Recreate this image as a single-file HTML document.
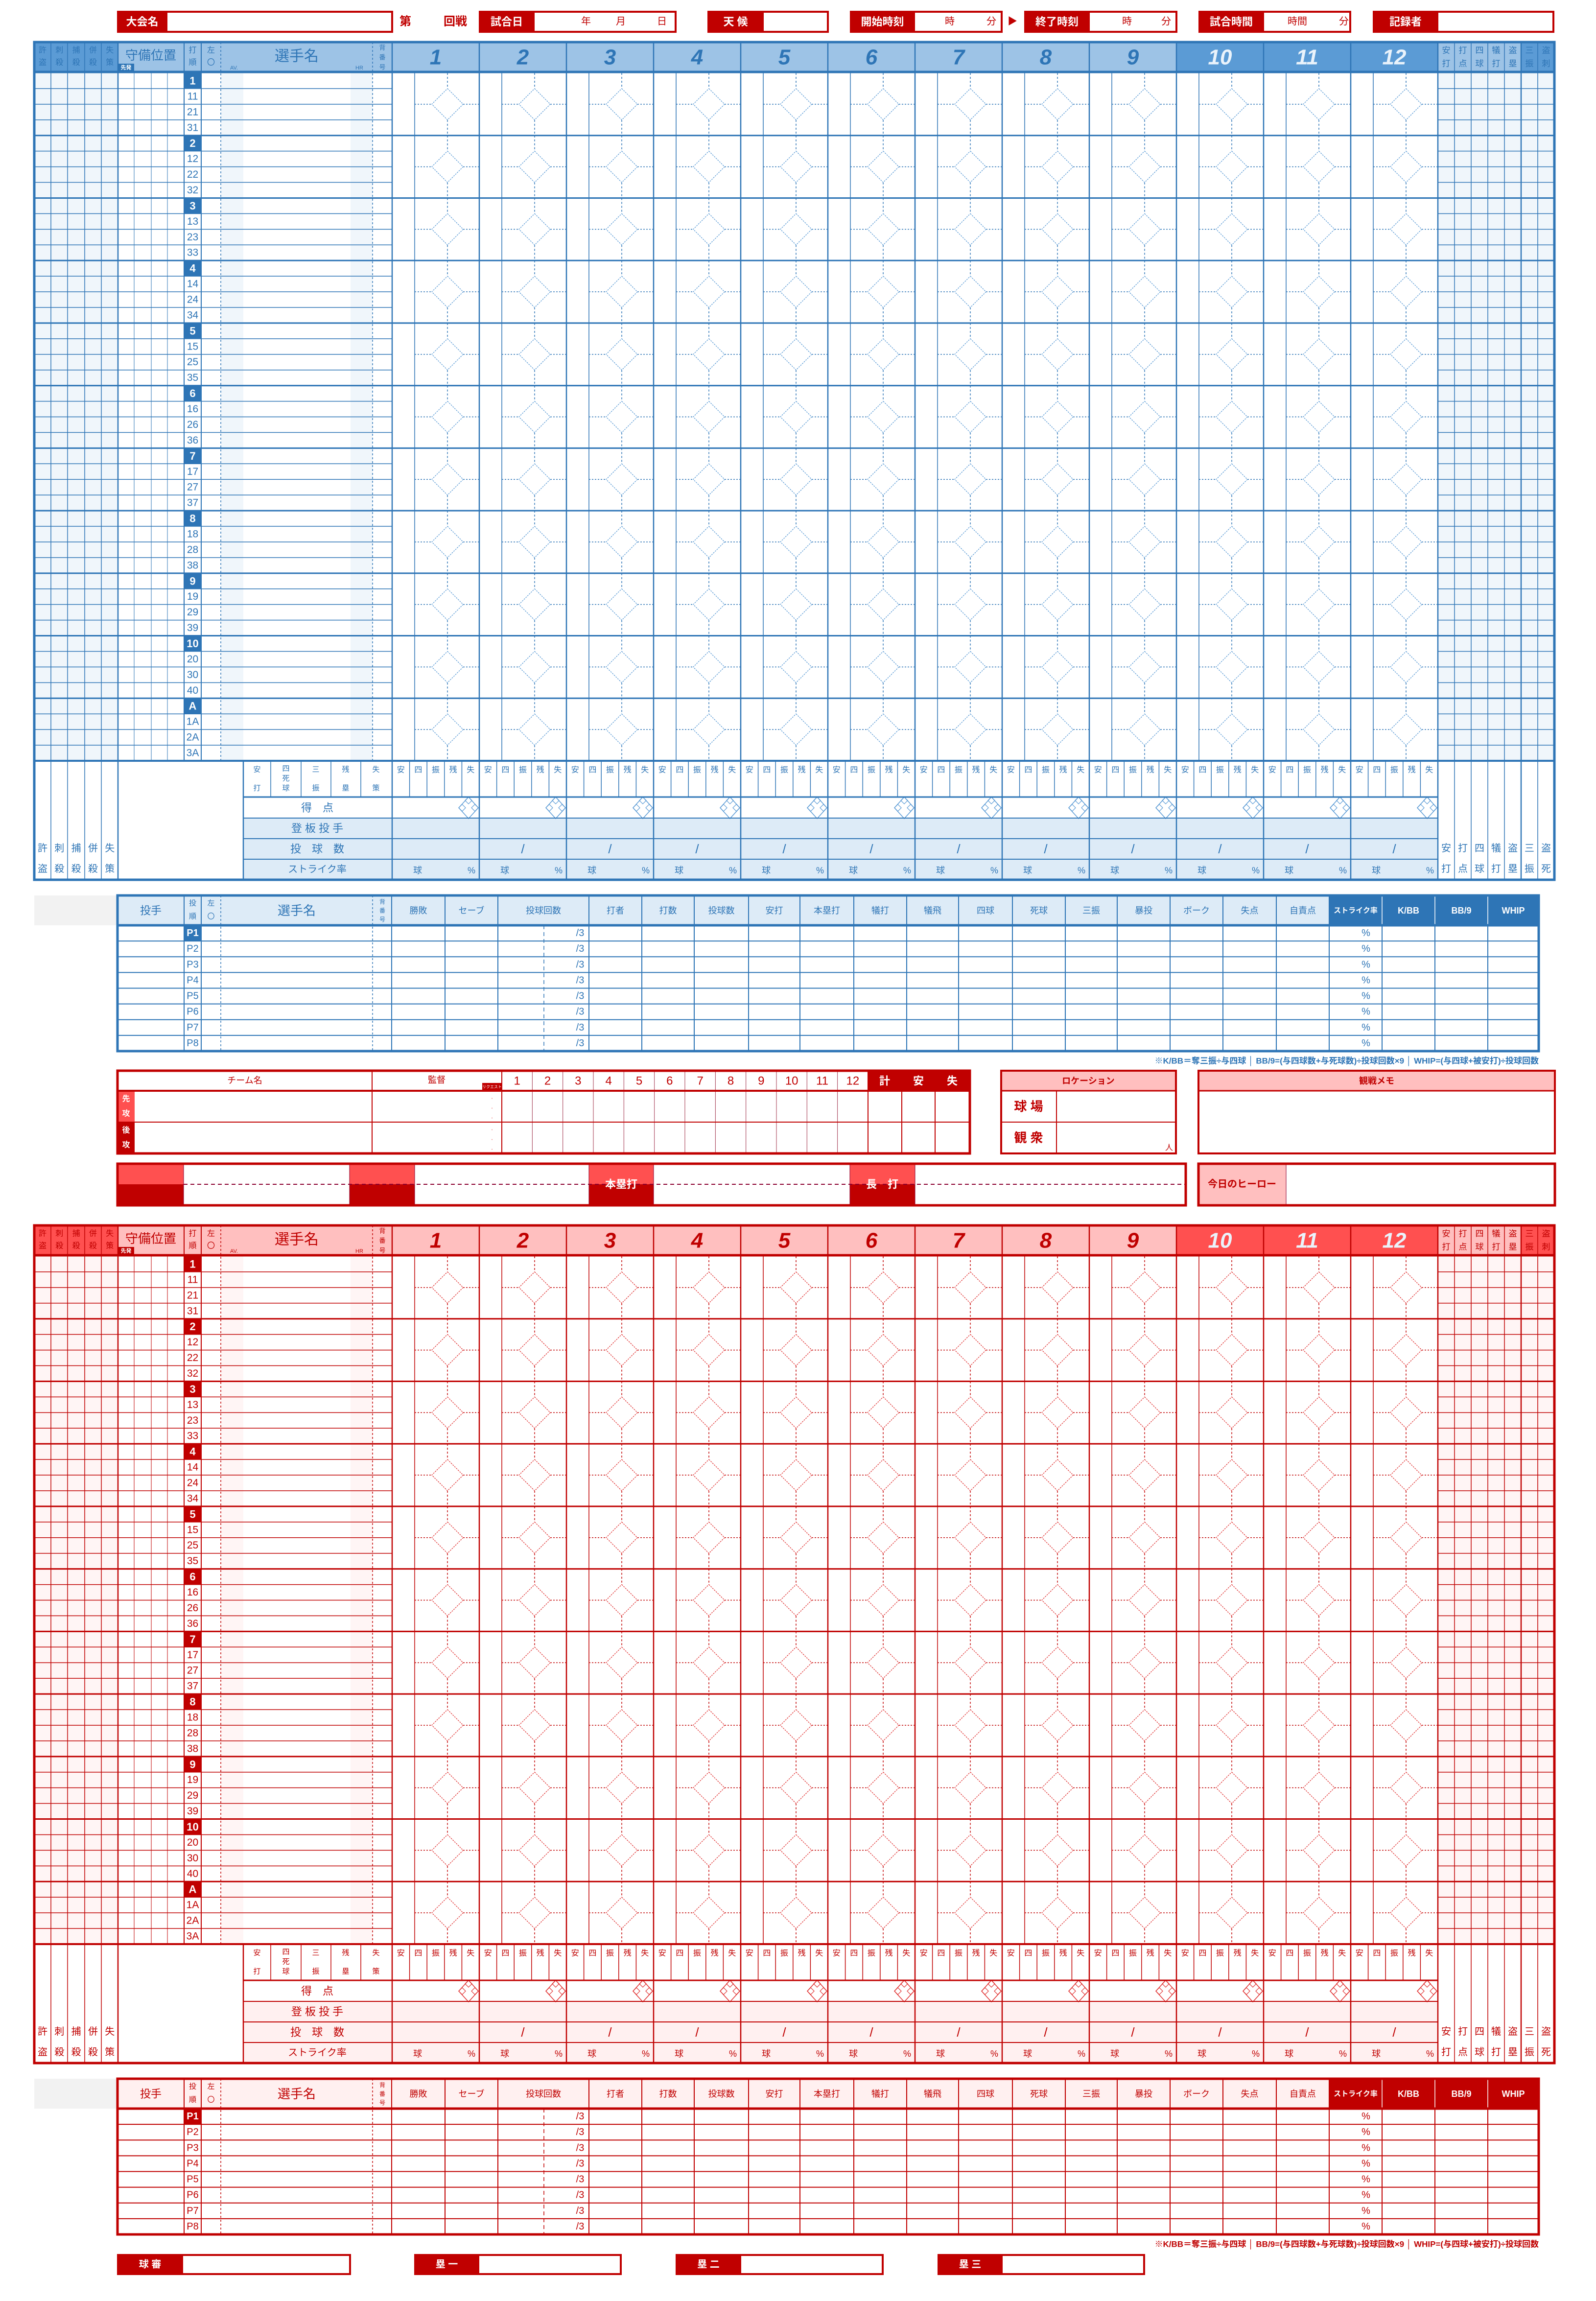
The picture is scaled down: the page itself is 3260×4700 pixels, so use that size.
<!DOCTYPE html>
<html><head><meta charset="utf-8"><style>
html,body{margin:0;padding:0;background:#fff;width:3260px;height:4700px;overflow:hidden}
svg{display:block}
text{font-family:"Liberation Sans","Noto Sans CJK JP",sans-serif}
</style></head><body>
<div id="wrap"></div>
<script>
const S=[];
function R(x,y,w,h,f,s,sw){S.push(`<rect x="${x}" y="${y}" width="${w}" height="${h}" fill="${f||'none'}"${s?` stroke="${s}" stroke-width="${sw||1}"`:''}/>`)}
function L(x1,y1,x2,y2,s,sw,d){S.push(`<line x1="${x1}" y1="${y1}" x2="${x2}" y2="${y2}" stroke="${s}" stroke-width="${sw||1}"${d?` stroke-dasharray="${d}"`:''}/>`)}
function T(x,y,t,sz,f,a,w,ex){S.push(`<text x="${x}" y="${y}" font-size="${sz}" fill="${f}" text-anchor="${a||'middle'}" dominant-baseline="central"${w?` font-weight="${w}"`:''}${ex||''}>${t}</text>`)}
function P(pts,s,sw,d,f){S.push(`<polygon points="${pts}" fill="${f||'none'}" stroke="${s}" stroke-width="${sw}"${d?` stroke-dasharray="${d}"`:''}/>`)}

const BLUE={line:'#2e75b6',text:'#2e75b6',hl:'#9dc3e6',hd:'#5b9bd5',bl:'#f0f6fb',ph:'#ddebf7',dark:'#2e75b6',thin:'#5b9bd5',num:'#2e75b6'};
const RED={line:'#c00000',text:'#c00000',hl:'#ffbfbf',hd:'#ff5050',bl:'#fff5f5',ph:'#fff0f0',dark:'#c00000',thin:'#e03030',num:'#c00000'};

function sec(dy,C){
  const y=v=>v+dy;
  const rh=(1554-149)/44;
  // header fills
  R(70,y(86),3105,61,C.hl);
  R(70,y(86),171,61,C.hd);
  for(let i=9;i<12;i++)R(801+i*178,y(86),178,61,C.hd);
  R(3107,y(86),68,61,C.hd);
  // body fills
  R(70,y(149),171,1405,C.bl);R(451,y(149),46,1405,C.bl);R(716,y(149),45,1405,C.bl);R(2937,y(149),238,1405,C.bl);
  R(497,y(1671),2440,126,C.ph);
  // row lines
  for(let r=1;r<44;r++){const yy=y(149+r*rh);
    if(r%4==0)L(70,yy,3175,yy,C.line,3);
    else{L(70,yy,801,yy,C.line,1.5);L(2937,yy,3175,yy,C.line,1.5);}}
  // batting order labels
  const groups=['1','2','3','4','5','6','7','8','9','10','A'];
  groups.forEach((g,gi)=>{for(let k=0;k<4;k++){const yy=149+(gi*4+k)*rh;
    let lab=k==0?g:(g=='10'?String((k+1)*10):(g=='A'?k+'A':k+g));
    if(k==0){R(376,y(yy),35,rh,C.dark);T(393.5,y(yy+rh/2),lab,22,'#fff',null,'bold');}
    else T(393.5,y(yy+rh/2),lab,21,C.text);}});
  // verticals
  [104,138,173,207].forEach(x=>L(x,y(86),x,y(1797),C.line,1.5));
  L(241,y(86),241,y(1797),C.line,2.5);
  [274,309,342].forEach(x=>L(x,y(149),x,y(1554),C.line,1));
  [376,411].forEach(x=>L(x,y(86),x,y(1554),C.line,2));
  L(451,y(86),451,y(1554),C.line,1.5,'4,4');
  L(761,y(86),761,y(1554),C.line,1.5,'4,4');
  L(497,y(1554),497,y(1797),C.line,2.5);
  const sub=['安','四','振','残','失'];
  for(let i=0;i<12;i++){const x0=801+i*178;
    L(x0,y(86),x0,y(1797),C.line,2.5);
    L(x0+46,y(149),x0+46,y(1554),C.line,1.5);
    for(let g=0;g<11;g++){const top=149+g*4*rh,cy=top+2*rh,cx=x0+113;
      L(cx,y(top),cx,y(cy-32),C.line,1.5,'4,4');
      L(cx,y(cy+32),cx,y(top+4*rh),C.line,1.5,'4,4');
      L(x0+46,y(cy),cx-32,y(cy),C.line,1.5,'3,3');
      L(cx+32,y(cy),x0+178,y(cy),C.line,1.5,'3,3');
      P(`${cx},${y(cy-32)} ${cx+32},${y(cy)} ${cx},${y(cy+32)} ${cx-32},${y(cy)}`,C.thin,1.3,'3,2');}
    for(let k=1;k<5;k++)L(x0+k*35.6,y(1554),x0+k*35.6,y(1628),C.line,1.5);
    for(let k=0;k<5;k++)T(x0+17.8+k*35.6,y(1573),sub[k],16,C.text);
    const dx=x0+156,dyc=y(1650);
    P(`${dx},${dyc-22} ${dx+20},${dyc} ${dx},${dyc+22} ${dx-20},${dyc}`,C.thin,1.5);
    P(`${dx},${dyc-22} ${dx+7},${dyc-15} ${dx},${dyc-8} ${dx-7},${dyc-15}`,C.thin,1.2);
    P(`${dx+13},${dyc-7} ${dx+20},${dyc} ${dx+13},${dyc+7} ${dx+6},${dyc}`,C.thin,1.2);
    P(`${dx-13},${dyc-7} ${dx-6},${dyc} ${dx-13},${dyc+7} ${dx-20},${dyc}`,C.thin,1.2);
    if(i>0)T(x0+89,y(1734),'/',26,C.text);
    T(x0+52,y(1778),'球',18,C.text);T(x0+162,y(1778),'%',18,C.text);
    T(x0+89,y(117),String(i+1),44,i>=9?'#eaf3fb':C.num,null,'bold',' font-style="italic"');
  }
  L(2937,y(86),2937,y(1797),C.line,2.5);
  [2971,3005,3039,3073,3141].forEach(x=>L(x,y(86),x,y(1797),C.line,1.5));
  L(3107,y(86),3107,y(1797),C.line,2.5);
  L(497,y(1628),2937,y(1628),C.line,3);
  [1671,1713,1755].forEach(v=>L(497,y(v),2937,y(v),C.line,2));
  [553,615,676,737].forEach(x=>L(x,y(1554),x,y(1628),C.line,1.5));
  L(70,y(147),3175,y(147),C.line,5);
  L(70,y(1554),3175,y(1554),C.line,4);
  R(70,y(86),3105,1711,'none',C.line,5);
  // header texts
  [['許','盗'],['刺','殺'],['捕','殺'],['併','殺'],['失','策']].forEach((p,k)=>{const cx=87+k*34.3;
    T(cx,y(103),p[0],16,C.text);T(cx,y(128),p[1],16,C.text);
    T(cx,y(1733),p[0],20,C.text);T(cx,y(1775),p[1],20,C.text);});
  T(308,y(113),'守備位置',26,C.text);
  R(241,y(130),33,17,C.dark);T(257.5,y(138.5),'先発',11,'#fff',null,'bold');
  T(393.5,y(103),'打',16,C.text);T(393.5,y(128),'順',16,C.text);
  T(431,y(103),'左',16,C.text);T(431,y(128),'〇',16,C.text);
  T(606,y(115),'選手名',30,C.text);
  T(478,y(139),'AV.',11,C.text);T(734,y(139),'HR',11,C.text);
  T(781,y(97),'背',13,C.text);T(781,y(117),'番',13,C.text);T(781,y(137),'号',13,C.text);
  [['安','打'],['打','点'],['四','球'],['犠','打'],['盗','塁'],['三','振'],['盗','刺']].forEach((p,k)=>{const cx=2954+k*34;
    T(cx,y(103),p[0],17,C.text);T(cx,y(130),p[1],17,C.text);});
  [['安','打'],['打','点'],['四','球'],['犠','打'],['盗','塁'],['三','振'],['盗','死']].forEach((p,k)=>{const cx=2954+k*34;
    T(cx,y(1733),p[0],20,C.text);T(cx,y(1775),p[1],20,C.text);});
  // summary labels
  T(525,y(1572),'安',15,C.text);T(525,y(1610),'打',15,C.text);
  T(584,y(1570),'四',15,C.text);T(584,y(1590),'死',15,C.text);T(584,y(1610),'球',15,C.text);
  T(645,y(1572),'三',15,C.text);T(645,y(1610),'振',15,C.text);
  T(706,y(1572),'残',15,C.text);T(706,y(1610),'塁',15,C.text);
  T(768,y(1572),'失',15,C.text);T(768,y(1610),'策',15,C.text);
  T(648,y(1650),'得　点',22,C.text);
  T(648,y(1692),'登 板 投 手',22,C.text);
  T(648,y(1734),'投　球　数',22,C.text);
  T(648,y(1776),'ストライク率',20,C.text);
  // pitcher table
  R(70,y(1829),170,61,'#f2f2f2');
  R(240,y(1829),2903,61,C.ph);R(2715,y(1829),428,61,C.dark);
  const rh2=(2147-1890)/8;
  for(let r=1;r<8;r++)L(240,y(1890+r*rh2),3143,y(1890+r*rh2),C.line,2);
  const cols=[376,411,800,909,1017,1203,1311,1418,1529,1634,1744,1852,1958,2068,2176,2282,2390,2498,2607,2715,2823,2931,3039];
  cols.forEach(x=>L(x,y(1829),x,y(2147),x>2715?'#ffffff':C.line,x>2715?1.5:2));
  cols.forEach(x=>{if(x>2715)L(x,y(1890),x,y(2147),C.line,2)});
  L(451,y(1829),451,y(2147),C.line,1.5,'4,4');L(761,y(1829),761,y(2147),C.line,1.5,'4,4');
  L(1111,y(1890),1111,y(2147),C.line,1.5,'8,6');
  for(let r=0;r<8;r++){const cy=y(1890+(r+0.5)*rh2);
    if(r==0){R(376,y(1890),35,rh2,C.dark);T(393.5,cy,'P1',20,'#fff',null,'bold');}
    else T(393.5,cy,'P'+(r+1),20,C.text);
    T(1185,cy,'/3',20,C.text);T(2790,cy,'%',20,C.text);}
  L(240,y(1890),3143,y(1890),C.line,5);
  R(240,y(1829),2903,318,'none',C.line,5);
  T(308,y(1860),'投手',22,C.text);
  T(393.5,y(1845),'投',15,C.text);T(393.5,y(1872),'順',15,C.text);
  T(431,y(1845),'左',15,C.text);T(431,y(1872),'〇',15,C.text);
  T(606,y(1860),'選手名',26,C.text);
  T(781,y(1842),'背',12,C.text);T(781,y(1860),'番',12,C.text);T(781,y(1878),'号',12,C.text);
  const hl=['勝敗','セーブ','投球回数','打者','打数','投球数','安打','本塁打','犠打','犠飛','四球','死球','三振','暴投','ボーク','失点','自責点','ストライク率','K/BB','BB/9','WHIP'];
  const hx=[800,909,1017,1203,1311,1418,1529,1634,1744,1852,1958,2068,2176,2282,2390,2498,2607,2715,2823,2931,3039,3143];
  hl.forEach((t,k)=>{const cx=(hx[k]+hx[k+1])/2;T(cx,y(1860),t,k==17?15:18,k>=17?'#fff':C.text,null,k>=17?'bold':null);});
  T(3143,y(2167),'※K/BB＝奪三振÷与四球 │ BB/9=(与四球数+与死球数)÷投球回数×9 │ WHIP=(与四球+被安打)÷投球回数',17,C.text,'end','bold');
}

sec(0,BLUE);
sec(2417,RED);

// top header
const RD='#c00000';
function hbox(x1,x2,lx,lab){R(x1,22,x2-x1,45,RD);R(lx,26,x2-x1-(lx-x1)-4,37,'#fff');T((x1+lx)/2,44.5,lab,22,'#fff',null,'bold');}
hbox(239,803,342,'大会名');
T(828,44,'第',24,RD,null,'bold');T(930,44,'回戦',24,RD,null,'bold');
hbox(978,1382,1092,'試合日');T(1197,44,'年',20,RD);T(1268,44,'月',20,RD);T(1352,44,'日',20,RD);
hbox(1445,1693,1560,'天 候');
hbox(1736,2048,1869,'開始時刻');T(1940,44,'時',20,RD);T(2025,44,'分',20,RD);
T(2068,44,'▶',20,RD);
hbox(2092,2405,2226,'終了時刻');T(2302,44,'時',20,RD);T(2382,44,'分',20,RD);
hbox(2448,2760,2582,'試合時間');T(2650,44,'時間',20,RD);T(2745,44,'分',20,RD);
hbox(2804,3175,2938,'記録者');

// score table
R(240,2187,1741,169,'#fff');
R(1773,2187,208,41,RD);
R(240,2228,35,64,'#ff5050');R(240,2292,35,64,RD);
T(257.5,2245,'先',16,'#fff',null,'bold');T(257.5,2275,'攻',16,'#fff',null,'bold');
T(257.5,2309,'後',16,'#fff',null,'bold');T(257.5,2339,'攻',16,'#fff',null,'bold');
T(500,2207,'チーム名',18,RD);T(892,2206,'監督',18,RD);
R(985,2212,40,16,RD);T(1005,2220,'リクエスト',8,'#fff');
for(let i=0;i<12;i++){const x=1025+i*62.33;L(x,2187,x,2356,'#a0304a',1);T(x+31.2,2208,String(i+1),24,RD);}
[['計',1807],['安',1876],['失',1945]].forEach(p=>T(p[1],2208,p[0],22,'#fff',null,'bold'));
[1773,1842,1910].forEach(x=>L(x,2187,x,2356,RD,2));
[760,1025].forEach(x=>L(x,2187,x,2356,RD,2));
L(240,2228,1981,2228,RD,4);L(240,2292,1981,2292,RD,2);
[2245,2265,2285,2309,2329,2349].forEach(v=>T(1005,v,'・',10,'#f0a0a0'));
R(240,2187,1741,169,'none',RD,5);
// location
R(2045,2187,357,169,'#fff');R(2045,2187,357,41,'#ffbfbf');
L(2158,2228,2158,2356,RD,2);L(2045,2228,2402,2228,RD,3);L(2045,2292,2402,2292,RD,2);
T(2223,2208,'ロケーション',18,RD,null,'bold');
T(2101,2260,'球 場',26,RD,null,'bold');T(2101,2324,'観 衆',26,RD,null,'bold');T(2388,2345,'人',16,RD);
R(2045,2187,357,169,'none',RD,4);
// memo
R(2448,2187,728,169,'#fff');R(2448,2187,728,41,'#ffbfbf');L(2448,2228,3176,2228,RD,3);
T(2812,2208,'観戦メモ',18,RD,null,'bold');
R(2448,2187,728,169,'none',RD,4);
// bottom row
R(240,2377,2182,85,'#fff');
[[240,375],[714,847],[1203,1335],[1736,1869]].forEach(c=>{R(c[0],2377,c[1]-c[0],42,'#ff5050');R(c[0],2419,c[1]-c[0],43,RD);});
L(375,2419,2422,2419,'#8b0030',2,'8,6');
[375,714,847,1203,1335,1736,1869].forEach(x=>L(x,2377,x,2462,'#8b0030',1));
T(1269,2419,'本塁打',22,'#fff',null,'bold');T(1802,2419,'長　打',22,'#fff',null,'bold');
R(240,2377,2182,85,'none',RD,5);
R(2448,2377,728,85,'#fff');R(2448,2377,179,85,'#ffbfbf');L(2627,2377,2627,2462,'#8b0030',1);
T(2537,2419,'今日のヒーロー',20,RD,null,'bold');
R(2448,2377,728,85,'none',RD,5);

// umpire boxes
[[239,717,374,'球 審'],[846,1270,979,'塁 一'],[1380,1805,1514,'塁 二'],[1915,2339,2048,'塁 三']].forEach(b=>{
  R(b[0],4604,b[1]-b[0],43,RD);R(b[2],4608,b[1]-b[2]-4,35,'#fff');T((b[0]+b[2])/2,4625.5,b[3],20,'#fff',null,'bold');});

document.getElementById('wrap').innerHTML=`<svg xmlns="http://www.w3.org/2000/svg" width="3260" height="4700" viewBox="0 0 3260 4700">${S.join('')}</svg>`;
</script>
</body></html>
